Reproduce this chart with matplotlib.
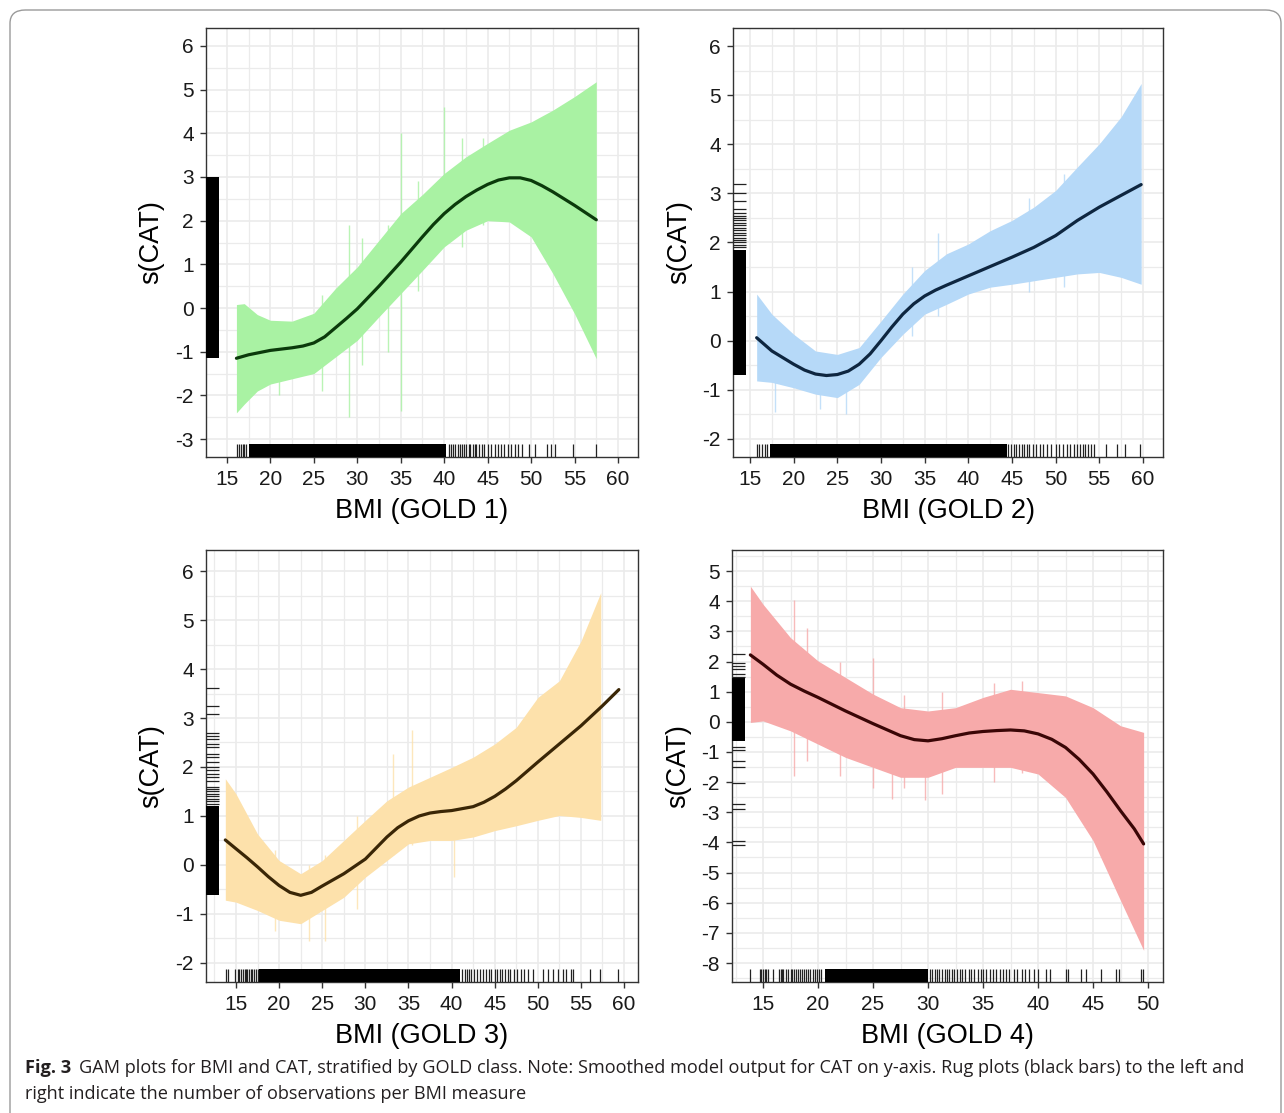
import matplotlib
matplotlib.use("Agg")
import matplotlib.pyplot as plt
from matplotlib.patches import FancyBboxPatch
from matplotlib.ticker import MultipleLocator

# ---------------- data ----------------
# GOLD 1
g1_fit_x = [16.1, 17.5, 20, 22.5, 23.75, 25, 26.25, 27.5, 28.75, 30, 32.5, 35, 37.5, 38.75, 40, 41.25,
            42.5, 43.75, 45, 46.25, 47.5, 48.75, 50, 51.25, 52.5, 55, 57.5]
g1_fit   = [-1.15, -1.07, -0.97, -0.91, -0.87, -0.80, -0.66, -0.45, -0.24, -0.02, 0.50, 1.05, 1.63, 1.91,
            2.16, 2.37, 2.55, 2.70, 2.83, 2.93, 2.98, 2.98, 2.92, 2.80, 2.66, 2.35, 2.02]
g1_band_x = [16.1, 17.0, 18.5, 20, 22.5, 25, 27.5, 30, 32.5, 35, 37.5, 40, 42.5, 45, 47.5, 50, 52.5, 55, 57.5]
g1_upper = [0.08, 0.10, -0.15, -0.28, -0.30, -0.12, 0.45, 0.94, 1.55, 2.16, 2.60, 3.08, 3.46, 3.77, 4.07, 4.26, 4.53, 4.84, 5.18]
g1_lower = [-2.40, -2.20, -1.90, -1.74, -1.62, -1.50, -1.12, -0.74, -0.20, 0.33, 0.86, 1.40, 1.78, 2.00, 1.97, 1.63, 0.79, -0.13, -1.16]
g1_spikes = [(29.1, -2.5, 1.9), (35.0, -2.35, 4.0), (40.0, 2.9, 4.6), (33.5, -1.0, 1.9), (26.0, -1.9, 0.3),
             (30.5, -1.3, 1.6), (37.0, 0.4, 2.9), (42.0, 1.4, 3.9), (44.5, 1.9, 3.9), (21.0, -2.0, -0.5)]
g1_rugx_dense = [(17.6, 40.2)]
g1_rugx = [16.2, 16.4, 16.6, 16.8, 17.0, 17.2, 40.5, 40.8, 41.0, 41.3, 41.6, 41.8, 42.0, 42.3, 42.5,
           42.8, 43.0, 43.3, 43.5, 43.7, 44.0, 44.3, 44.6, 45.0, 45.4, 45.8, 46.2, 46.5, 46.9, 47.3,
           47.7, 48.1, 48.5, 49.0, 49.8, 50.5, 51.8, 52.3, 52.7, 54.8, 57.5]
g1_rugy_dense = [(-1.15, 3.0)]
g1_rugy = []

# GOLD 2
g2_fit_x = [15.76, 17.5, 20, 21.25, 22.5, 23.75, 25, 26.25, 27.5, 28.75, 30, 31.25, 32.5, 33.75, 35, 36.25,
            37.5, 40, 42.5, 45, 47.5, 50, 52.5, 55, 57.5, 59.8]
g2_fit   = [0.06, -0.21, -0.48, -0.60, -0.68, -0.71, -0.69, -0.62, -0.48, -0.27, 0.00, 0.28, 0.54, 0.75,
            0.91, 1.03, 1.13, 1.32, 1.51, 1.70, 1.90, 2.14, 2.45, 2.72, 2.96, 3.18]
g2_band_x = [15.76, 17.5, 20, 22.5, 25, 27.5, 30, 32.5, 35, 37.5, 40, 42.5, 45, 47.5, 50, 52.5, 55, 57.5, 59.8]
g2_upper = [0.95, 0.54, 0.13, -0.21, -0.28, -0.14, 0.40, 0.95, 1.43, 1.77, 1.97, 2.24, 2.45, 2.72, 3.06, 3.54, 4.01, 4.56, 5.24]
g2_lower = [-0.82, -0.85, -0.96, -1.09, -1.16, -0.89, -0.34, 0.13, 0.54, 0.74, 0.95, 1.09, 1.15, 1.22, 1.29, 1.36, 1.39, 1.29, 1.15]
g2_spikes = [(17.9, -1.45, 0.3), (26.0, -1.5, -0.3), (36.5, 0.5, 2.2), (33.5, 0.1, 1.5),
             (47.0, 1.0, 2.9), (51.0, 1.1, 3.4), (23.0, -1.4, -0.4)]
g2_rugx_dense = [(17.3, 44.4)]
g2_rugx = [15.76, 16.07, 16.37, 16.67, 16.98, 44.6, 44.9, 45.2, 45.5, 45.8, 46.1, 46.4, 46.7, 47.0,
           47.4, 47.8, 48.2, 48.6, 49.0, 49.5, 50.0, 50.4, 50.9, 51.3, 51.7, 52.1, 52.5, 52.8, 53.1,
           53.4, 53.7, 54.0, 54.4, 55.8, 57.0, 58.0, 59.7]
g2_rugy_dense = [(-0.7, 1.85)]
g2_rugy = [1.9, 1.95, 2.0, 2.05, 2.1, 2.15, 2.2, 2.25, 2.3, 2.35, 2.4, 2.45, 2.5, 2.55, 2.6, 2.68, 2.85, 3.0, 3.2]

# GOLD 3
g3_fit_x = [13.76, 15, 16.25, 17.5, 18.75, 20, 21.25, 22.5, 23.75, 25, 27.5, 30, 32.5, 33.75, 35, 36.25,
            37.5, 38.75, 40, 42.5, 43.75, 45, 46.25, 47.5, 50, 52.5, 55, 57.5, 59.4]
g3_fit   = [0.51, 0.33, 0.15, -0.04, -0.24, -0.42, -0.56, -0.62, -0.56, -0.43, -0.18, 0.12, 0.57, 0.76,
            0.90, 1.00, 1.06, 1.09, 1.11, 1.19, 1.28, 1.40, 1.55, 1.72, 2.10, 2.47, 2.84, 3.25, 3.58]
g3_band_x = [13.76, 15, 17.5, 20, 22.5, 25, 27.5, 30, 32.5, 35, 37.5, 40, 42.5, 45, 47.5, 50, 52.5, 55, 57.3]
g3_upper = [1.76, 1.45, 0.63, 0.09, -0.18, 0.09, 0.50, 0.91, 1.31, 1.59, 1.79, 1.99, 2.20, 2.47, 2.81, 3.42, 3.76, 4.57, 5.56]
g3_lower = [-0.72, -0.76, -0.93, -1.13, -1.20, -0.93, -0.66, -0.25, 0.09, 0.43, 0.50, 0.50, 0.57, 0.70, 0.80, 0.91, 1.01, 0.97, 0.91]
g3_spikes = [(33.2, 0.2, 2.27), (35.4, 0.4, 2.75), (40.3, -0.25, 0.6), (23.5, -1.55, 0.0),
             (25.3, -1.55, 0.2), (29.0, -0.9, 1.0), (19.5, -1.35, 0.3)]
g3_rugx_dense = [(17.7, 41.0)]
g3_rugx = [13.84, 14.04, 14.9, 15.2, 15.4, 15.6, 15.8, 16.0, 16.2, 16.3, 16.5, 16.7, 16.9, 17.1, 17.3,
           17.5, 41.2, 41.5, 41.8, 42.0, 42.3, 42.6, 43.0, 43.3, 43.6, 44.0, 44.3, 44.6, 45.0, 45.3,
           45.6, 45.9, 46.2, 46.5, 46.8, 47.2, 47.55, 48.0, 48.4, 48.9, 49.4, 50.6, 51.2, 51.8, 52.4,
           52.9, 53.3, 53.8, 54.1, 56.0, 57.2, 59.3]
g3_rugy_dense = [(-0.62, 1.2)]
g3_rugy = [1.25, 1.3, 1.35, 1.4, 1.45, 1.5, 1.55, 1.6, 1.72, 1.79, 1.86, 1.93, 2.0, 2.1, 2.2, 2.27,
           2.4, 2.47, 2.57, 2.64, 2.7, 3.08, 3.25, 3.61]

# GOLD 4
g4_fit_x = [13.85, 15, 16.25, 17.5, 18.75, 20, 22.5, 25, 27.5, 28.75, 30, 31.25, 32.5, 33.75, 35, 36.25,
            37.5, 38.75, 40, 41.25, 42.5, 43.75, 45, 46.25, 47.5, 48.75, 49.6]
g4_fit   = [2.22, 1.91, 1.55, 1.25, 1.02, 0.81, 0.36, -0.06, -0.46, -0.59, -0.63, -0.56, -0.46, -0.37,
            -0.32, -0.29, -0.27, -0.30, -0.40, -0.58, -0.85, -1.25, -1.73, -2.32, -2.95, -3.55, -4.05]
g4_band_x = [13.85, 15, 17.5, 20, 22.5, 25, 27.5, 30, 32.5, 35, 37.5, 40, 42.5, 45, 47.5, 49.6]
g4_upper = [4.50, 3.90, 2.79, 2.02, 1.47, 0.92, 0.47, 0.36, 0.47, 0.81, 1.08, 0.97, 0.86, 0.47, -0.13, -0.35]
g4_lower = [-0.02, 0.03, -0.30, -0.74, -1.18, -1.51, -1.84, -1.84, -1.51, -1.51, -1.51, -1.73, -2.51, -3.94, -5.93, -7.58]
g4_spikes = [(17.8, -1.8, 4.05), (19.0, -1.3, 3.1), (25.0, -2.2, 2.13), (26.7, -2.56, 0.5),
             (31.3, -2.4, 1.0), (29.7, -2.6, 0.3), (22.0, -1.8, 2.0), (36.0, -2.0, 1.3),
             (38.5, -1.7, 1.35), (27.8, -2.2, 0.9)]
g4_rugx_dense = [(20.6, 30.0)]
g4_rugx = [13.8, 14.7, 14.85, 15.0, 15.15, 15.3, 15.45, 15.9, 16.45, 16.6, 16.7, 16.8, 17.1, 17.3,
           17.5, 17.6, 17.8, 18.0, 18.2, 18.4, 18.5, 18.7, 18.9, 19.1, 19.3, 19.5, 19.7, 19.9, 20.1,
           20.3, 30.2, 30.4, 30.6, 30.8, 31.0, 31.3, 31.5, 31.7, 31.9, 32.2, 32.4, 32.6, 32.9, 33.1,
           33.4, 33.7, 33.9, 34.2, 34.5, 34.8, 35.0, 35.3, 35.6, 35.9, 36.2, 36.5, 36.8, 37.1, 37.4,
           37.8, 38.1, 38.5, 38.8, 39.2, 39.6, 40.0, 40.76, 41.06, 42.5, 42.7, 43.9, 44.4, 45.76,
           47.1, 47.4, 49.4, 49.55]
g4_rugy_dense = [(-0.62, 1.45)]
g4_rugy = [1.5, 1.58, 1.74, 1.85, 1.96, 2.24, -0.85, -0.93, -1.29, -1.49, -2.04, -2.73, -2.89, -3.94, -4.07]

x_labels = ["BMI (GOLD 1)", "BMI (GOLD 2)", "BMI (GOLD 3)", "BMI (GOLD 4)"]
y_label = "s(CAT)"
xticks_60 = [15, 20, 25, 30, 35, 40, 45, 50, 55, 60]
xticks_50 = [15, 20, 25, 30, 35, 40, 45, 50]
yticks_g1 = [-3, -2, -1, 0, 1, 2, 3, 4, 5, 6]
yticks_g23 = [-2, -1, 0, 1, 2, 3, 4, 5, 6]
yticks_g4 = [-8, -7, -6, -5, -4, -3, -2, -1, 0, 1, 2, 3, 4, 5]

caption_bold = "Fig. 3"
caption_line1 = ("GAM plots for BMI and CAT, stratified by GOLD class. Note: Smoothed model output for CAT "
                 "on y-axis. Rug plots (black bars) to the left and")
caption_line2 = "right indicate the number of observations per BMI measure"

# ---------------- layout ----------------
W, H = 1284, 1113
fig = plt.figure(figsize=(W / 100, H / 100), dpi=100)
fig.patch.set_facecolor("white")

FONT = ["Liberation Sans", "DejaVu Sans"]


def rect(l, t, r, b):
    return [l / W, 1 - b / H, (r - l) / W, (b - t) / H]


panels = [
    dict(fx=g1_fit_x, fit=g1_fit, bx=g1_band_x, up=g1_upper, lo=g1_lower, spikes=g1_spikes,
         rxd=g1_rugx_dense, rx=g1_rugx, ryd=g1_rugy_dense, ry=g1_rugy,
         band="#a9f2a3", line="#0b3a0b", rect=rect(206, 28, 638, 457),
         xlim=(12.6, 62.3), ylim=(-3.41, 6.41), xt=xticks_60, yt=yticks_g1, xl=x_labels[0]),
    dict(fx=g2_fit_x, fit=g2_fit, bx=g2_band_x, up=g2_upper, lo=g2_lower, spikes=g2_spikes,
         rxd=g2_rugx_dense, rx=g2_rugx, ryd=g2_rugy_dense, ry=g2_rugy,
         band="#b6d9f8", line="#0e2640", rect=rect(733, 28, 1163, 457),
         xlim=(13.05, 62.3), ylim=(-2.37, 6.37), xt=xticks_60, yt=yticks_g23, xl=x_labels[1]),
    dict(fx=g3_fit_x, fit=g3_fit, bx=g3_band_x, up=g3_upper, lo=g3_lower, spikes=g3_spikes,
         rxd=g3_rugx_dense, rx=g3_rugx, ryd=g3_rugy_dense, ry=g3_rugy,
         band="#fde1ab", line="#3a2606", rect=rect(206, 550, 638, 982),
         xlim=(11.52, 61.62), ylim=(-2.39, 6.43), xt=xticks_60, yt=yticks_g23, xl=x_labels[2]),
    dict(fx=g4_fit_x, fit=g4_fit, bx=g4_band_x, up=g4_upper, lo=g4_lower, spikes=g4_spikes,
         rxd=g4_rugx_dense, rx=g4_rugx, ryd=g4_rugy_dense, ry=g4_rugy,
         band="#f7aaaa", line="#3a0606", rect=rect(732, 550, 1163, 982),
         xlim=(12.18, 51.36), ylim=(-8.63, 5.70), xt=xticks_50, yt=yticks_g4, xl=x_labels[3]),
]

for p in panels:
    ax = fig.add_axes(p["rect"])
    ax.set_xlim(*p["xlim"])
    ax.set_ylim(*p["ylim"])
    ax.set_xticks(p["xt"])
    ax.set_yticks(p["yt"])
    ax.set_yticklabels([str(v) for v in p["yt"]])
    ax.xaxis.set_minor_locator(MultipleLocator(2.5))
    ax.yaxis.set_minor_locator(MultipleLocator(0.5))
    ax.grid(which="major", color="#ebebeb", lw=1.2)
    ax.grid(which="minor", color="#ebebeb", lw=0.9)
    ax.set_axisbelow(True)
    ax.tick_params(which="minor", length=0)
    ax.tick_params(which="major", length=4.4, width=1.0, color="#333333",
                   labelsize=15, labelcolor="#1a1a1a")
    ax.tick_params(axis="x", pad=5.3)
    ax.tick_params(axis="y", pad=4.5)
    for lab in ax.get_xticklabels() + ax.get_yticklabels():
        lab.set_family(FONT)
    for s in ax.spines.values():
        s.set_color("#333333")
        s.set_linewidth(1.0)

    ax.fill_between(p["bx"], p["lo"], p["up"], color=p["band"], lw=0, zorder=2)
    for sx, s0, s1 in p["spikes"]:
        ax.vlines(sx, s0, s1, color=p["band"], lw=1.0, alpha=0.8, zorder=2)
    ax.plot(p["fx"], p["fit"], color=p["line"], lw=2.3, zorder=4,
            solid_capstyle="round", solid_joinstyle="round")

    # rugs
    xtr = ax.get_xaxis_transform()
    ytr = ax.get_yaxis_transform()
    for a, b in p["rxd"]:
        ax.axvspan(a, b, ymin=0, ymax=0.03, color="black", lw=0, zorder=3)
    ax.vlines(p["rx"], 0, 0.03, transform=xtr, color="#222222", lw=0.9, zorder=3)
    for a, b in p["ryd"]:
        ax.axhspan(a, b, xmin=0, xmax=0.03, color="black", lw=0, zorder=3)
    if p["ry"]:
        ax.hlines(p["ry"], 0, 0.03, transform=ytr, color="#222222", lw=0.9, zorder=3)

    ax.set_xlabel(p["xl"], fontsize=19.5, family=FONT, color="black")
    ax.xaxis.set_label_coords(0.5, -0.125)
    ax.xaxis.label.set_va("center")
    ax.set_ylabel(y_label, fontsize=19.5, family=FONT, color="black")
    ax.yaxis.set_label_coords(-0.126, 0.5)
    ax.yaxis.label.set_va("center")

# frame around the figure
box = FancyBboxPatch((10 / W, -30 / H), (1281 - 10) / W, (H - 10 + 30) / H,
                     boxstyle="round,pad=0,rounding_size=0.012",
                     transform=fig.transFigure, fc="none", ec="#9a9a9a", lw=1.0)
fig.add_artist(box)

# caption
CAP = ["Open Sans", "DejaVu Sans"]
cap_size = 13.05
renderer = fig.canvas.get_renderer()
t0 = fig.text(25 / W, 1 - 1068 / H, caption_bold, fontsize=cap_size, fontweight="bold",
              family=CAP, color="#231f20", va="center", ha="left")
bb = t0.get_window_extent(renderer)
fig.text((bb.x1 + 8) / W, 1 - 1068 / H, caption_line1, fontsize=cap_size, family=CAP,
         color="#231f20", va="center", ha="left")
fig.text(25 / W, 1 - 1094 / H, caption_line2, fontsize=cap_size, family=CAP,
         color="#231f20", va="center", ha="left")

fig.savefig("out.png", dpi=100, facecolor="white")
